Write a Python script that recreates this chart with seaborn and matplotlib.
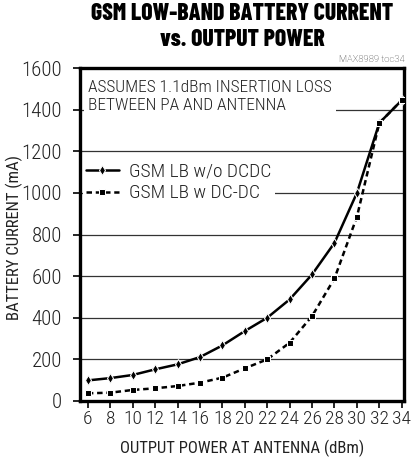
import pandas as pd
import seaborn as sns
import matplotlib.pyplot as plt

# output power at antenna (dBm)
power = [6, 8, 10, 12, 14, 16, 18, 20, 22, 24, 26, 28, 30, 32, 34]
# battery current (mA)
current_no_dcdc = [99, 110, 125, 152, 176, 211, 267, 336, 400, 488, 608, 760, 1000, 1336, 1445]
current_dcdc = [37, 40, 53, 61, 72, 88, 112, 157, 200, 280, 408, 589, 885, 1336, 1445]

series_names = ['GSM LB w/o DCDC', 'GSM LB w DC-DC']
y_ticks = [0, 200, 400, 600, 800, 1000, 1200, 1400, 1600]
x_ticks = power

df = pd.concat([
    pd.DataFrame({'power': power, 'current': current_no_dcdc, 'series': series_names[0]}),
    pd.DataFrame({'power': power, 'current': current_dcdc, 'series': series_names[1]}),
], ignore_index=True)

sns.set_style('white')
plt.rcParams['font.family'] = ['Roboto Condensed', 'DejaVu Sans']
plt.rcParams['font.weight'] = 'light'
txt_color = '#222222'

fig = plt.figure(figsize=(4.11, 4.68), dpi=100)
ax = fig.add_axes([80 / 411, 1 - 401 / 468, 324 / 411, 333 / 468])

for y in y_ticks[1:-1]:
    ax.axhline(y, color='#333333', lw=0.9, zorder=1)

sns.lineplot(data=df, x='power', y='current', hue='series', style='series',
             palette={series_names[0]: 'black', series_names[1]: 'black'},
             markers={series_names[0]: 'd', series_names[1]: 's'},
             dashes={series_names[0]: '', series_names[1]: (2.2, 1.5)},
             markersize=5, linewidth=1.8, ax=ax, zorder=3)

ax.set(xlim=(5.3, 34.2), ylim=(0, 1600))
ax.set_xticks(x_ticks)
ax.set_yticks(y_ticks)
ax.tick_params(axis='both', direction='out', length=5, width=1.2,
               bottom=True, left=True, color='black', labelcolor=txt_color)
ax.tick_params(axis='x', pad=1.5, labelsize=14)
ax.tick_params(axis='y', pad=8, labelsize=15)
for s in ax.spines.values():
    s.set_linewidth(2.4)
    s.set_color('black')
    s.set_visible(True)

ax.set_xlabel('OUTPUT POWER AT ANTENNA (dBm)', fontsize=12, color=txt_color)
ax.set_ylabel('BATTERY CURRENT (mA)', fontsize=12, color=txt_color)
ax.xaxis.set_label_coords((242 - 80) / 324, -(448 - 401) / 333)
ax.yaxis.set_label_coords(-(80 - 14) / 324, (401 - 237) / 333)
ax.xaxis.label.set_va('center')
ax.yaxis.label.set_va('center')

ax.text(0.025, 0.965, 'ASSUMES 1.1dBm INSERTION LOSS\nBETWEEN PA AND ANTENNA',
        transform=ax.transAxes, ha='left', va='top', fontsize=12.5, linespacing=1.3,
        color=txt_color, bbox=dict(facecolor='white', edgecolor='none', pad=3), zorder=4)

leg = ax.legend(loc='upper left', bbox_to_anchor=(0.008, 0.725), frameon=True,
                fontsize=14, handlelength=1.7, handletextpad=0.55,
                labelspacing=0.2, borderpad=0.15, borderaxespad=0)
leg.get_frame().set_edgecolor('none')
leg.get_frame().set_facecolor('white')
leg.get_frame().set_alpha(1)
leg.set_zorder(4)
for t in leg.get_texts():
    t.set_color(txt_color)

fig.text(242 / 411, 1 - 14 / 468, 'GSM LOW-BAND BATTERY CURRENT',
         ha='center', va='center', fontsize=17, fontweight=800,
         family=['Barlow Condensed', 'Roboto Condensed'], color='black')
fig.text(242 / 411, 1 - 40 / 468, 'vs. OUTPUT POWER',
         ha='center', va='center', fontsize=17, fontweight=800,
         family=['Barlow Condensed', 'Roboto Condensed'], color='black')
fig.text(405 / 411, 1 - 59 / 468, 'MAX8989 toc34', ha='right', va='center',
         fontsize=6.8, family=['Roboto', 'DejaVu Sans'], color='#333333')

fig.savefig('out.png', dpi=100)
